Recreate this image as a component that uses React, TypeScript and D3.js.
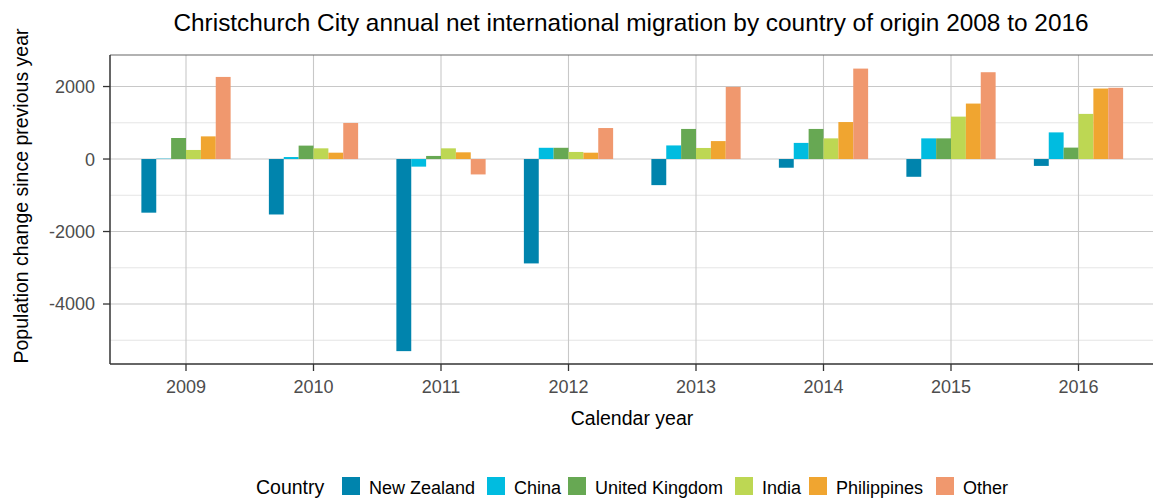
import React from "react";
import * as d3 from "d3";

const years = ["2009", "2010", "2011", "2012", "2013", "2014", "2015", "2016"];
const countries = ["New Zealand", "China", "United Kingdom", "India", "Philippines", "Other"];
const colors = ["#0084ad", "#00bce0", "#67a853", "#bdd753", "#f0a530", "#f0986e"];

const newZealand = [-1480, -1530, -5300, -2880, -720, -240, -490, -190];
const china = [10, 55, -210, 310, 375, 445, 570, 735];
const unitedKingdom = [580, 370, 85, 310, 830, 830, 570, 315];
const india = [250, 295, 295, 195, 305, 570, 1170, 1245];
const philippines = [625, 175, 185, 175, 495, 1020, 1530, 1945];
const other = [2265, 995, -425, 855, 1990, 2495, 2395, 1965];
const seriesValues = [newZealand, china, unitedKingdom, india, philippines, other];

const yTicks = [-4000, -2000, 0, 2000];
const yMinor = [-5000, -3000, -1000, 1000];

const W = 1153, H = 499;
const left = 110, right = 1155, top = 55, bottom = 364;
const font = "'Liberation Sans', Arial, sans-serif";

export default function App() {
  const x = d3.scalePoint<string>().domain(years).range([109.5, right]).padding(0.6);
  const step = x.step();
  const groupW = step * 0.7;
  const barW = groupW / countries.length;
  const y = d3.scaleLinear().domain([-5655, 2870]).range([bottom, top]);

  const legendKeys = [342, 487, 568, 735, 809, 936];

  return (
    <div style={{ position: "fixed", left: 0, top: 0 }}>
      <svg width={W} height={H} style={{ display: "block", background: "#fff" }} fontFamily={font}>
        <text x={631} y={31} textAnchor="middle" fontSize={24.4} fill="#000">
          Christchurch City annual net international migration by country of origin 2008 to 2016
        </text>
        <clipPath id="panel">
          <rect x={left} y={top} width={right - left} height={bottom - top} />
        </clipPath>
        <g clipPath="url(#panel)">
          {yMinor.map((t) => (
            <line key={"m" + t} x1={left} x2={right} y1={y(t)} y2={y(t)} stroke="#d4d4d4" strokeWidth={0.6} />
          ))}
          {yTicks.map((t) => (
            <line key={"g" + t} x1={left} x2={right} y1={y(t)} y2={y(t)} stroke="#c8c8c8" strokeWidth={1.1} />
          ))}
          {years.map((yr) => (
            <line key={"v" + yr} x1={x(yr)} x2={x(yr)} y1={top} y2={bottom} stroke="#c8c8c8" strokeWidth={1.1} />
          ))}
          {seriesValues.map((vals, si) =>
            vals.map((v, i) => {
              const cx = (x(years[i]) as number) - groupW / 2 + si * barW;
              const y0 = y(0), y1 = y(v);
              return (
                <rect
                  key={si + "-" + i}
                  x={cx}
                  y={Math.min(y0, y1)}
                  width={barW}
                  height={Math.abs(y1 - y0)}
                  fill={colors[si]}
                />
              );
            })
          )}
        </g>
        <line x1={left} x2={right} y1={top} y2={top} stroke="#666" strokeWidth={1.2} />
        <line x1={left} x2={left} y1={top} y2={bottom} stroke="#333" strokeWidth={1.5} />
        <line x1={left} x2={right} y1={bottom} y2={bottom} stroke="#333" strokeWidth={1.5} />
        {yTicks.map((t) => (
          <g key={"yt" + t}>
            <line x1={left - 7} x2={left} y1={y(t)} y2={y(t)} stroke="#333" strokeWidth={1.3} />
            <text x={left - 15} y={y(t)} dy="0.36em" textAnchor="end" fontSize={18} fill="#4d4d4d">
              {t}
            </text>
          </g>
        ))}
        {years.map((yr) => (
          <g key={"xt" + yr}>
            <line x1={x(yr)} x2={x(yr)} y1={bottom} y2={bottom + 7} stroke="#333" strokeWidth={1.3} />
            <text x={x(yr)} y={393} textAnchor="middle" fontSize={18} fill="#4d4d4d">
              {yr}
            </text>
          </g>
        ))}
        <text x={632} y={425} textAnchor="middle" fontSize={19.5} fill="#000">
          Calendar year
        </text>
        <text
          transform={`translate(28, 196) rotate(-90)`}
          textAnchor="middle"
          fontSize={19.5}
          fill="#000"
        >
          Population change since previous year
        </text>
        <text x={256} y={494} fontSize={19.5} fill="#000">Country</text>
        {countries.map((c, i) => (
          <g key={c}>
            <rect x={legendKeys[i]} y={477} width={18} height={18} fill={colors[i]} />
            <text x={legendKeys[i] + 27} y={494} fontSize={18} fill="#000">{c}</text>
          </g>
        ))}
      </svg>
    </div>
  );
}
